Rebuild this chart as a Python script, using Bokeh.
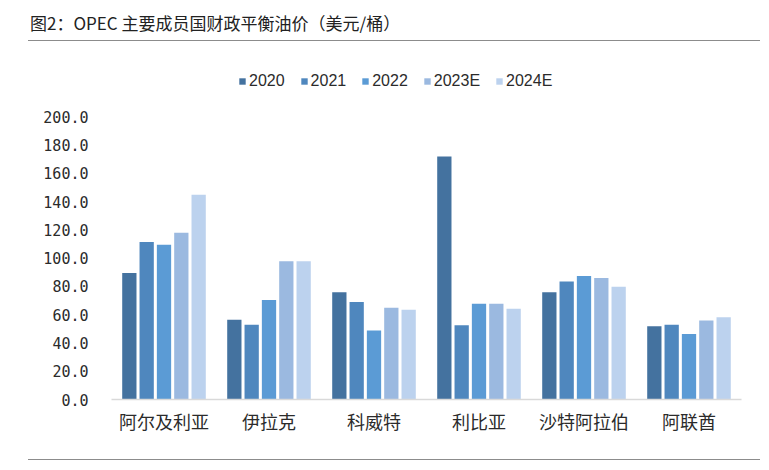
from bokeh.plotting import figure
from bokeh.models import (ColumnDataSource, FactorRange, FixedTicker, Legend, LegendItem,
                          Div, NumeralTickFormatter, Range1d)
from bokeh.transform import dodge
from bokeh.layouts import column
from bokeh.embed import file_html
from bokeh.resources import INLINE

title_text = "图2：OPEC 主要成员国财政平衡油价（美元/桶）"
countries = ["阿尔及利亚", "伊拉克", "科威特", "利比亚", "沙特阿拉伯", "阿联酋"]
series_names = ["2020", "2021", "2022", "2023E", "2024E"]
v2020 = [89.5, 56.5, 76.0, 172.0, 76.0, 51.8]
v2021 = [111.5, 53.0, 69.0, 52.5, 83.5, 53.0]
v2022 = [109.5, 70.5, 48.8, 67.8, 87.5, 46.3]
v2023 = [118.0, 97.8, 65.0, 67.8, 86.0, 56.0]
v2024 = [145.0, 97.8, 63.5, 64.3, 79.8, 58.3]
y_ticks = [0, 20, 40, 60, 80, 100, 120, 140, 160, 180, 200]

colors = ["#44729F", "#4F87BE", "#5B9BD5", "#9BB9E0", "#BCD2EE"]
offsets = [-0.33, -0.165, 0.0, 0.165, 0.33]

src = ColumnDataSource(dict(cat=countries, s0=v2020, s1=v2021, s2=v2022, s3=v2023, s4=v2024))

# top of the range leaves headroom above 200 for the legend row
p = figure(x_range=FactorRange(*countries), y_range=Range1d(0, 232.9),
           width=753, height=418, output_backend="svg", toolbar_location=None,
           min_border_left=103, min_border_right=20, min_border_top=29, min_border_bottom=60)
p.margin = (0, 0, 0, 8)
p.outline_line_color = None
p.xgrid.grid_line_color = None
p.ygrid.grid_line_color = None
p.x_range.range_padding = 0

items = []
for i, (name, col) in enumerate(zip(series_names, ["s0", "s1", "s2", "s3", "s4"])):
    r = p.vbar(x=dodge("cat", offsets[i], range=p.x_range), top=col, width=0.136,
               source=src, fill_color=colors[i], line_color=None)
    items.append(LegendItem(label=name, renderers=[r]))

legend = Legend(items=items, orientation="horizontal", location=(127, 308),
                glyph_width=8, glyph_height=8, label_standoff=3, spacing=15,
                padding=0, margin=0, border_line_color=None, background_fill_alpha=0,
                label_text_font="Liberation Sans", label_text_font_size="16px",
                label_text_color="#2b2b2b", label_height=20)
p.add_layout(legend, "center")

p.yaxis.ticker = FixedTicker(ticks=y_ticks)
p.yaxis.formatter = NumeralTickFormatter(format="0.0")
p.yaxis.axis_line_color = None
p.yaxis.major_tick_line_color = None
p.yaxis.minor_tick_line_color = None
p.yaxis.major_tick_out = 0
p.yaxis.major_tick_in = 0
p.yaxis.major_label_standoff = 23
p.yaxis.major_label_text_font = "DejaVu Sans Mono"
p.yaxis.major_label_text_font_size = "15px"
p.yaxis.major_label_text_color = "#2b2b2b"

p.xaxis.axis_line_color = "#d9d9d9"
p.xaxis.axis_line_width = 1.5
p.xaxis.major_tick_line_color = None
p.xaxis.minor_tick_line_color = None
p.xaxis.major_tick_out = 0
p.xaxis.major_tick_in = 0
p.xaxis.major_label_standoff = 8
p.xaxis.major_label_text_font = "Noto Sans CJK SC"
p.xaxis.major_label_text_font_size = "18px"
p.xaxis.major_label_text_color = "#2b2b2b"

title_div = Div(text=title_text, width=732, height=33, margin=(8, 0, 0, 28),
                styles={"font-family": "Noto Sans CJK SC", "font-size": "17px",
                        "color": "#222222", "line-height": "29px", "padding-left": "2px",
                        "border-bottom": "1px solid #8c8c8c"})
bottom_div = Div(text="", width=732, height=1, margin=(0, 0, 0, 28),
                 styles={"border-top": "1px solid #8c8c8c"})

layout = column(title_div, p, bottom_div)
open("out.html", "w").write(file_html(layout, INLINE))
